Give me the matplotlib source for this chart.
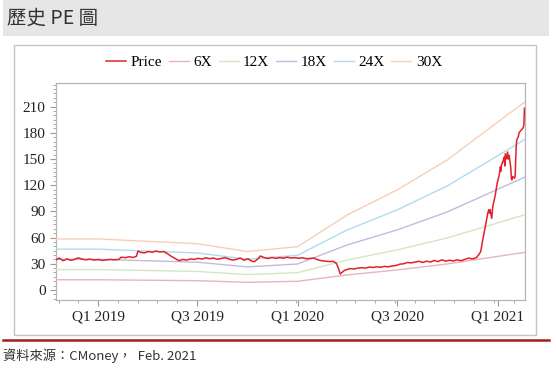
import pandas as pd
import matplotlib
matplotlib.use("Agg")
import matplotlib.pyplot as plt
import matplotlib.dates as mdates
from matplotlib.ticker import MultipleLocator, AutoMinorLocator, FixedLocator, FixedFormatter
from matplotlib.patches import Rectangle
from matplotlib.lines import Line2D

# ----------------- Dữ liệu -----------------
price_dates = [
    "2018-10-16", "2018-10-22", "2018-10-29", "2018-11-05", "2018-11-12", "2018-11-19",
    "2018-11-26", "2018-12-03", "2018-12-10", "2018-12-17", "2018-12-24", "2019-01-02",
    "2019-01-09", "2019-01-16", "2019-01-23", "2019-01-30", "2019-02-08", "2019-02-12",
    "2019-02-20", "2019-02-27", "2019-03-06", "2019-03-12", "2019-03-15", "2019-03-20",
    "2019-03-27", "2019-04-03", "2019-04-10", "2019-04-17", "2019-04-24", "2019-05-01",
    "2019-05-08", "2019-05-15", "2019-05-22", "2019-05-29", "2019-06-05", "2019-06-12",
    "2019-06-19", "2019-06-26", "2019-07-03", "2019-07-10", "2019-07-17", "2019-07-24",
    "2019-07-31", "2019-08-07", "2019-08-14", "2019-08-21", "2019-08-28", "2019-09-04",
    "2019-09-11", "2019-09-18", "2019-09-25", "2019-10-02", "2019-10-09", "2019-10-14",
    "2019-10-21", "2019-10-25", "2019-11-01", "2019-11-08", "2019-11-15", "2019-11-22",
    "2019-11-29", "2019-12-06", "2019-12-13", "2019-12-20", "2019-12-27", "2020-01-03",
    "2020-01-10", "2020-01-17", "2020-01-31", "2020-02-07", "2020-02-14", "2020-02-21",
    "2020-02-28", "2020-03-06", "2020-03-12", "2020-03-16", "2020-03-19", "2020-03-23",
    "2020-03-27", "2020-04-06", "2020-04-13", "2020-04-20", "2020-04-27", "2020-05-04",
    "2020-05-11", "2020-05-18", "2020-05-25", "2020-06-01", "2020-06-08", "2020-06-15",
    "2020-06-22", "2020-06-29", "2020-07-06", "2020-07-13", "2020-07-20", "2020-07-27",
    "2020-08-03", "2020-08-10", "2020-08-17", "2020-08-24", "2020-08-31", "2020-09-07",
    "2020-09-14", "2020-09-21", "2020-09-28", "2020-10-05", "2020-10-12", "2020-10-19",
    "2020-10-26", "2020-11-02", "2020-11-09", "2020-11-16", "2020-11-23", "2020-11-27",
    "2020-12-01", "2020-12-04", "2020-12-08", "2020-12-11", "2020-12-14", "2020-12-16",
    "2020-12-17", "2020-12-18", "2020-12-21", "2020-12-23", "2020-12-28", "2020-12-31",
    "2021-01-04", "2021-01-06", "2021-01-07", "2021-01-08", "2021-01-11", "2021-01-13",
    "2021-01-14", "2021-01-15", "2021-01-18", "2021-01-19", "2021-01-21", "2021-01-22",
    "2021-01-25", "2021-01-26", "2021-01-27", "2021-01-28", "2021-02-01", "2021-02-02",
    "2021-02-03", "2021-02-04", "2021-02-05", "2021-02-08", "2021-02-09", "2021-02-17",
    "2021-02-18", "2021-02-19",
]
price_values = [
    34.5, 36.5, 33.5, 35.5, 34.0, 35.0,
    36.8, 35.2, 34.5, 35.3, 34.2, 34.8,
    33.8, 34.5, 35.0, 34.6, 35.0, 37.5,
    37.0, 38.0, 37.2, 38.5, 44.5, 43.0,
    42.5, 44.0, 43.2, 44.5, 43.5, 44.0,
    41.5, 38.5, 36.0, 33.5, 35.0, 34.2,
    35.5, 35.0, 36.2, 35.4, 36.8, 35.8,
    36.5, 35.2, 36.0, 37.0, 35.5, 34.2,
    35.0, 36.5, 34.0, 35.8, 33.0, 32.4,
    36.0, 38.9, 37.0, 36.0, 37.2, 36.2,
    37.0, 36.4, 37.5, 36.6, 37.0, 36.3,
    36.8, 35.8, 36.5, 34.5, 33.5, 33.0,
    32.5, 32.8, 30.5, 24.0, 18.3, 20.5,
    22.5, 24.5, 24.0, 25.0, 25.5, 25.0,
    26.2, 25.8, 26.5, 26.0, 27.0, 26.5,
    27.5, 28.0, 29.5, 30.0, 31.5, 31.0,
    32.0, 32.8, 31.5, 33.0, 32.0, 33.8,
    32.5, 34.5, 33.0, 34.0, 33.2, 34.5,
    33.5, 35.0, 36.5, 35.5, 37.0, 40.0,
    44.0, 55.0, 68.0, 78.0, 88.0, 92.0,
    88.0, 92.0, 82.0, 95.0, 110.0, 122.0,
    132.0, 141.0, 136.0, 143.0, 148.0, 152.0,
    142.0, 156.0, 150.0, 158.0, 150.0, 154.0,
    140.0, 128.0, 126.0, 130.0, 128.0, 131.0,
    150.0, 165.0, 172.0, 176.0, 180.0, 186.0,
    190.0, 208.0,
]

# EPS dùng cho các đường PE band (điểm gãy theo quý)
eps_dates = ["2018-10-16", "2019-01-01", "2019-07-01", "2019-10-01", "2020-01-01",
             "2020-04-01", "2020-07-01", "2020-10-01", "2021-02-19"]
eps_values = [1.947, 1.947, 1.767, 1.467, 1.653, 2.867, 3.817, 4.967, 7.17]

multiples = [6, 12, 18, 24, 30]
band_labels = ["6X", "12X", "18X", "24X", "30X"]
band_colors = ["#e6b4c1", "#d4e6c3", "#c0bcde", "#b1dbeb", "#f8cfb4"]

x_tick_dates = ["2019-01-01", "2019-07-01", "2020-01-01", "2020-07-01", "2021-01-01"]
x_tick_labels = ["Q1 2019", "Q3 2019", "Q1 2020", "Q3 2020", "Q1 2021"]

price_dates = pd.to_datetime(price_dates)
eps_dates = pd.to_datetime(eps_dates)
eps_arr = pd.Series(eps_values).values

# ----------------- Vẽ -----------------
fig = plt.figure(figsize=(5.56, 3.71), dpi=100)
W, H = 556.0, 371.0

# dải tiêu đề màu xám
fig.patches.append(Rectangle((3 / W, 1 - 36 / H), 546 / W, 36 / H, transform=fig.transFigure,
                             facecolor="#e6e6e6", edgecolor="none", zorder=-2))
fig.text(7 / W, 1 - 18 / H, "歷史 PE 圖", fontsize=14, color="#333333",
         family=["Noto Sans CJK TC", "DejaVu Sans"], va="center", ha="left")

# khung ngoài của biểu đồ
fig.patches.append(Rectangle((13.5 / W, 1 - 334.5 / H), 522.5 / W, 290 / H, transform=fig.transFigure,
                             facecolor="white", edgecolor="#c4c4c4", linewidth=1.0, zorder=-2))

# đường kẻ đỏ dưới
fig.add_artist(Line2D([3 / W, 549 / W], [1 - 340 / H, 1 - 340 / H], transform=fig.transFigure,
                      color="#a31d22", linewidth=1.8))
fig.text(3 / W, 1 - 356 / H, "資料來源：CMoney，  Feb. 2021", fontsize=9.5, color="#333333",
         family=["Noto Sans CJK TC", "DejaVu Sans"], va="center", ha="left")

ax = fig.add_axes([56 / W, 1 - 300 / H, 469 / W, 217 / H])
ax.set_zorder(2)
ax.set_facecolor("white")

ax.plot(price_dates, price_values, color="#e3202a", linewidth=1.1, label="Price", zorder=5)
for m, lab, col in zip(multiples, band_labels, band_colors):
    ax.plot(eps_dates, eps_arr * m, color=col, linewidth=1.0, label=lab, zorder=3)

ax.set_xlim(pd.Timestamp("2018-10-16"), pd.Timestamp("2021-02-20"))
ax.set_ylim(-11.5, 237)

ax.yaxis.set_major_locator(MultipleLocator(30))
ax.yaxis.set_minor_locator(MultipleLocator(5))
xt = mdates.date2num(pd.to_datetime(x_tick_dates))
ax.xaxis.set_major_locator(FixedLocator(xt))
ax.xaxis.set_major_formatter(FixedFormatter(x_tick_labels))
ax.xaxis.set_minor_locator(AutoMinorLocator(5))

for s in ax.spines.values():
    s.set_color("#b5b5b5")
    s.set_linewidth(0.9)
ax.tick_params(axis="both", which="both", colors="#9a9a9a", direction="out")
ax.tick_params(axis="both", which="major", length=4, labelsize=11, labelcolor="#222222")
ax.tick_params(axis="both", which="minor", length=2)
for lbl in ax.get_xticklabels() + ax.get_yticklabels():
    lbl.set_family("Liberation Serif")

handles, labels = ax.get_legend_handles_labels()
fig.legend(handles, labels, loc="center", bbox_to_anchor=(274 / W, 1 - 62 / H), ncol=6,
           frameon=False, handlelength=1.3, handletextpad=0.3, columnspacing=0.45,
           prop={"family": "Liberation Serif", "size": 11})

fig.savefig("out.png", dpi=100)
